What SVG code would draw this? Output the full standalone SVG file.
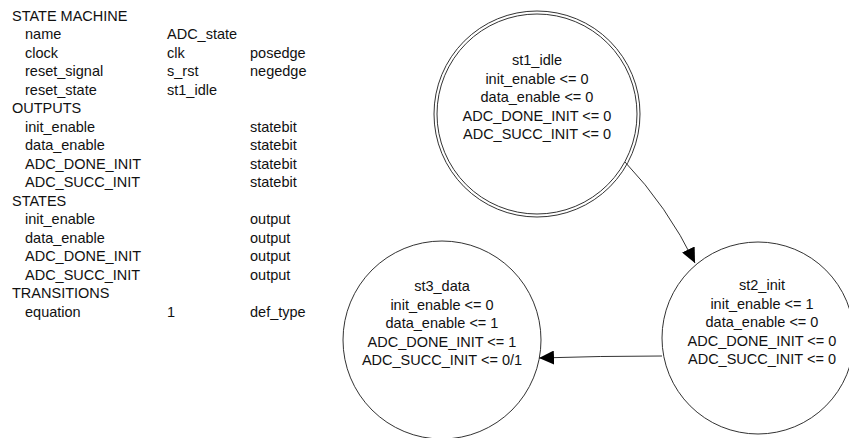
<svg xmlns="http://www.w3.org/2000/svg" width="849" height="438" viewBox="0 0 849 438">
  <style>
    text { font-family: "Liberation Sans", Arial, sans-serif; font-size: 14.5px; fill: #111; }
    .c { text-anchor: middle; }
    .state { fill: #fff; stroke: #333; stroke-width: 1; }
    .edge { fill: none; stroke: #333; stroke-width: 1; }
  </style>
  <defs>
    <marker id="arrow" viewBox="0 0 15 14" refX="15" refY="7" markerWidth="15" markerHeight="14" markerUnits="userSpaceOnUse" orient="auto">
      <path d="M0,0 L15,7 L0,14 Z" fill="#000"/>
    </marker>
  </defs>
  <rect width="849" height="438" fill="#fff"/>

  <!-- declaration table -->
  <g id="table">
    <text x="12" y="20.5">STATE MACHINE</text>
    <text x="25" y="39">name</text><text x="167" y="39">ADC_state</text>
    <text x="25" y="57.5">clock</text><text x="167" y="57.5">clk</text><text x="250" y="57.5">posedge</text>
    <text x="25" y="76">reset_signal</text><text x="167" y="76">s_rst</text><text x="250" y="76">negedge</text>
    <text x="25" y="94.5">reset_state</text><text x="167" y="94.5">st1_idle</text>
    <text x="12" y="113">OUTPUTS</text>
    <text x="25" y="131.5">init_enable</text><text x="250" y="131.5">statebit</text>
    <text x="25" y="150">data_enable</text><text x="250" y="150">statebit</text>
    <text x="25" y="168.5">ADC_DONE_INIT</text><text x="250" y="168.5">statebit</text>
    <text x="25" y="187">ADC_SUCC_INIT</text><text x="250" y="187">statebit</text>
    <text x="12" y="205.5">STATES</text>
    <text x="25" y="224">init_enable</text><text x="250" y="224">output</text>
    <text x="25" y="242.5">data_enable</text><text x="250" y="242.5">output</text>
    <text x="25" y="261">ADC_DONE_INIT</text><text x="250" y="261">output</text>
    <text x="25" y="279.5">ADC_SUCC_INIT</text><text x="250" y="279.5">output</text>
    <text x="12" y="298">TRANSITIONS</text>
    <text x="25" y="316.5">equation</text><text x="167" y="316.5">1</text><text x="250" y="316.5">def_type</text>
  </g>

  <!-- reset state: double circle -->
  <g id="st1_idle">
    <circle class="state" cx="537" cy="114" r="103"/>
    <circle class="state" cx="537" cy="114" r="100"/>
    <text class="c" x="537" y="65">st1_idle</text>
    <text class="c" x="537" y="83.5">init_enable &lt;= 0</text>
    <text class="c" x="537" y="102">data_enable &lt;= 0</text>
    <text class="c" x="537" y="120.5">ADC_DONE_INIT &lt;= 0</text>
    <text class="c" x="537" y="139">ADC_SUCC_INIT &lt;= 0</text>
  </g>

  <g id="st2_init">
    <circle class="state" cx="758" cy="338" r="96"/>
    <text class="c" x="762" y="290">st2_init</text>
    <text class="c" x="762" y="308.5">init_enable &lt;= 1</text>
    <text class="c" x="762" y="327">data_enable &lt;= 0</text>
    <text class="c" x="762" y="345.5">ADC_DONE_INIT &lt;= 0</text>
    <text class="c" x="762" y="364">ADC_SUCC_INIT &lt;= 0</text>
  </g>

  <g id="st3_data">
    <circle class="state" cx="442" cy="340" r="99"/>
    <text class="c" x="442" y="291">st3_data</text>
    <text class="c" x="442" y="309.5">init_enable &lt;= 0</text>
    <text class="c" x="442" y="328">data_enable &lt;= 1</text>
    <text class="c" x="442" y="346.5">ADC_DONE_INIT &lt;= 1</text>
    <text class="c" x="442" y="365">ADC_SUCC_INIT &lt;= 0/1</text>
  </g>

  <!-- transitions -->
  <g id="connectors">
    <path class="edge" d="M625,162 Q667,206 695,263" marker-end="url(#arrow)"/>
    <path class="edge" d="M662,356 Q600,356 539,358" marker-end="url(#arrow)"/>
  </g>
</svg>
